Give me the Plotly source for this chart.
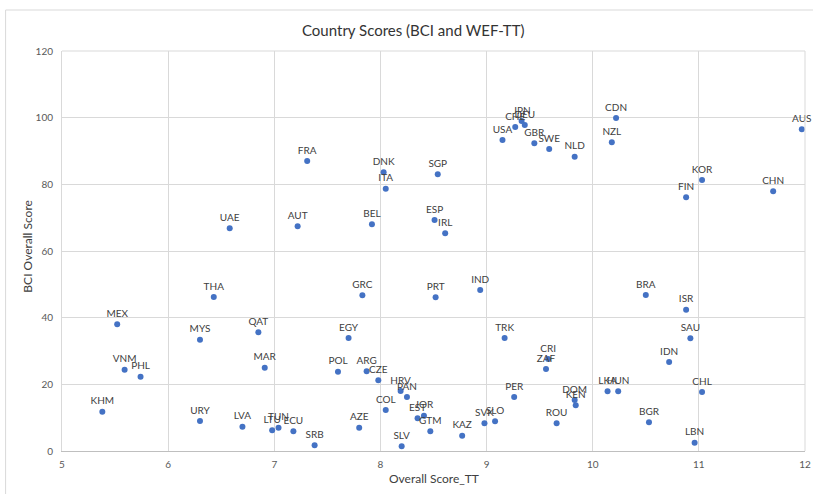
import plotly.graph_objects as go

countries = ["KHM","MEX","VNM","PHL","MYS","URY","THA","UAE","LVA","QAT","MAR","LTU","TUN","ECU","AUT","FRA","SRB",
             "POL","EGY","AZE","GRC","ARG","BEL","CZE","DNK","ITA","COL","HRV","SLV","PAN","EST","JOR","GTM","ESP",
             "PRT","SGP","IRL","KAZ","IND","SVK","SLO","USA","TRK","PER","CHE","JPN","DEU","GBR","ZAF","CRI","SWE",
             "ROU","DOM","NLD","KEN","LKA","NZL","CDN","HUN","BRA","BGR","IDN","FIN","ISR","SAU","LBN","KOR","CHL",
             "CHN","AUS"]
score_tt = [5.38,5.52,5.59,5.74,6.30,6.30,6.43,6.58,6.70,6.85,6.91,6.98,7.04,7.18,7.22,7.31,7.38,
            7.60,7.70,7.80,7.83,7.87,7.92,7.98,8.03,8.05,8.05,8.19,8.20,8.25,8.35,8.41,8.47,8.51,
            8.52,8.54,8.61,8.77,8.94,8.98,9.08,9.15,9.17,9.26,9.27,9.33,9.36,9.45,9.56,9.58,9.59,
            9.66,9.83,9.83,9.84,10.14,10.18,10.22,10.24,10.50,10.53,10.72,10.88,10.88,10.92,10.96,11.03,11.03,
            11.70,11.97]
bci = [11.8,38.0,24.4,22.3,33.4,9.0,46.2,66.8,7.3,35.6,25.0,6.2,7.0,5.9,67.4,87.0,1.7,
       23.8,33.9,7.0,46.7,23.9,68.0,21.2,83.6,78.7,12.3,18.0,1.4,16.2,9.8,10.6,5.9,69.3,
       46.1,83.0,65.3,4.6,48.3,8.3,8.9,93.3,33.9,16.2,97.2,99.0,97.8,92.3,24.6,27.6,90.6,
       8.3,15.3,88.3,13.7,17.9,92.6,99.9,17.9,46.8,8.6,26.7,76.1,42.4,33.8,2.5,81.3,17.7,
       77.9,96.5]

x_ticks = [5, 6, 7, 8, 9, 10, 11, 12]
y_ticks = [0, 20, 40, 60, 80, 100, 120]

FONT = "Lato"
fig = go.Figure(go.Scatter(
    x=score_tt, y=bci, text=countries, mode="markers+text",
    textposition="top center",
    textfont=dict(family=FONT, size=10, color="#404040"),
    marker=dict(color="#4472C4", size=6),
    cliponaxis=False, hoverinfo="skip"))

grid = "#D9D9D9"
fig.update_layout(
    width=813, height=494,
    margin=dict(l=62, r=8, t=51, b=43, autoexpand=False),
    paper_bgcolor="white", plot_bgcolor="white",
    showlegend=False,
    font=dict(family=FONT, color="#595959"),
    xaxis=dict(range=[5, 12], tickvals=x_ticks, showgrid=True, gridcolor=grid, gridwidth=1,
               zeroline=False, showline=True, linecolor="#BFBFBF", mirror=False, automargin=False,
               ticks="outside", ticklen=4, tickcolor="rgba(0,0,0,0)",
               tickfont=dict(family=FONT, size=10, color="#595959")),
    yaxis=dict(range=[0, 120], tickvals=y_ticks, showgrid=True, gridcolor=grid, gridwidth=1,
               zeroline=False, showline=True, linecolor=grid, mirror=False, automargin=False,
               ticks="outside", ticklen=6, tickcolor="rgba(0,0,0,0)",
               tickfont=dict(family=FONT, size=10, color="#595959")),
    shapes=[
        dict(type="rect", xref="paper", yref="paper", x0=-0.0759, x1=1.03, y0=-0.12, y1=1.1025,
             line=dict(color="#D9D9D9", width=1), layer="below"),
        dict(type="line", xref="paper", yref="paper", x0=1, x1=1, y0=0, y1=1,
             line=dict(color=grid, width=1)),
        dict(type="line", xref="paper", yref="paper", x0=0, x1=1, y0=1, y1=1,
             line=dict(color=grid, width=1)),
    ],
    annotations=[
        dict(text="Country Scores (BCI and WEF-TT)", xref="paper", yref="paper", x=0.4726, y=1.0525,
             showarrow=False, font=dict(family=FONT, size=15, color="#333333"),
             xanchor="center", yanchor="middle"),
        dict(text="Overall Score_TT", xref="paper", yref="paper", x=0.5009, y=-0.068,
             showarrow=False, font=dict(family=FONT, size=12, color="#404040"),
             xanchor="center", yanchor="middle"),
        dict(text="BCI Overall Score", xref="paper", yref="paper", x=-0.0476, y=0.51,
             showarrow=False, textangle=-90, font=dict(family=FONT, size=12, color="#404040"),
             xanchor="center", yanchor="middle"),
    ],
)

fig.write_html("out.html", config={"displayModeBar": False},
               post_script="document.body.style.margin='0';document.body.style.overflow='hidden';")
